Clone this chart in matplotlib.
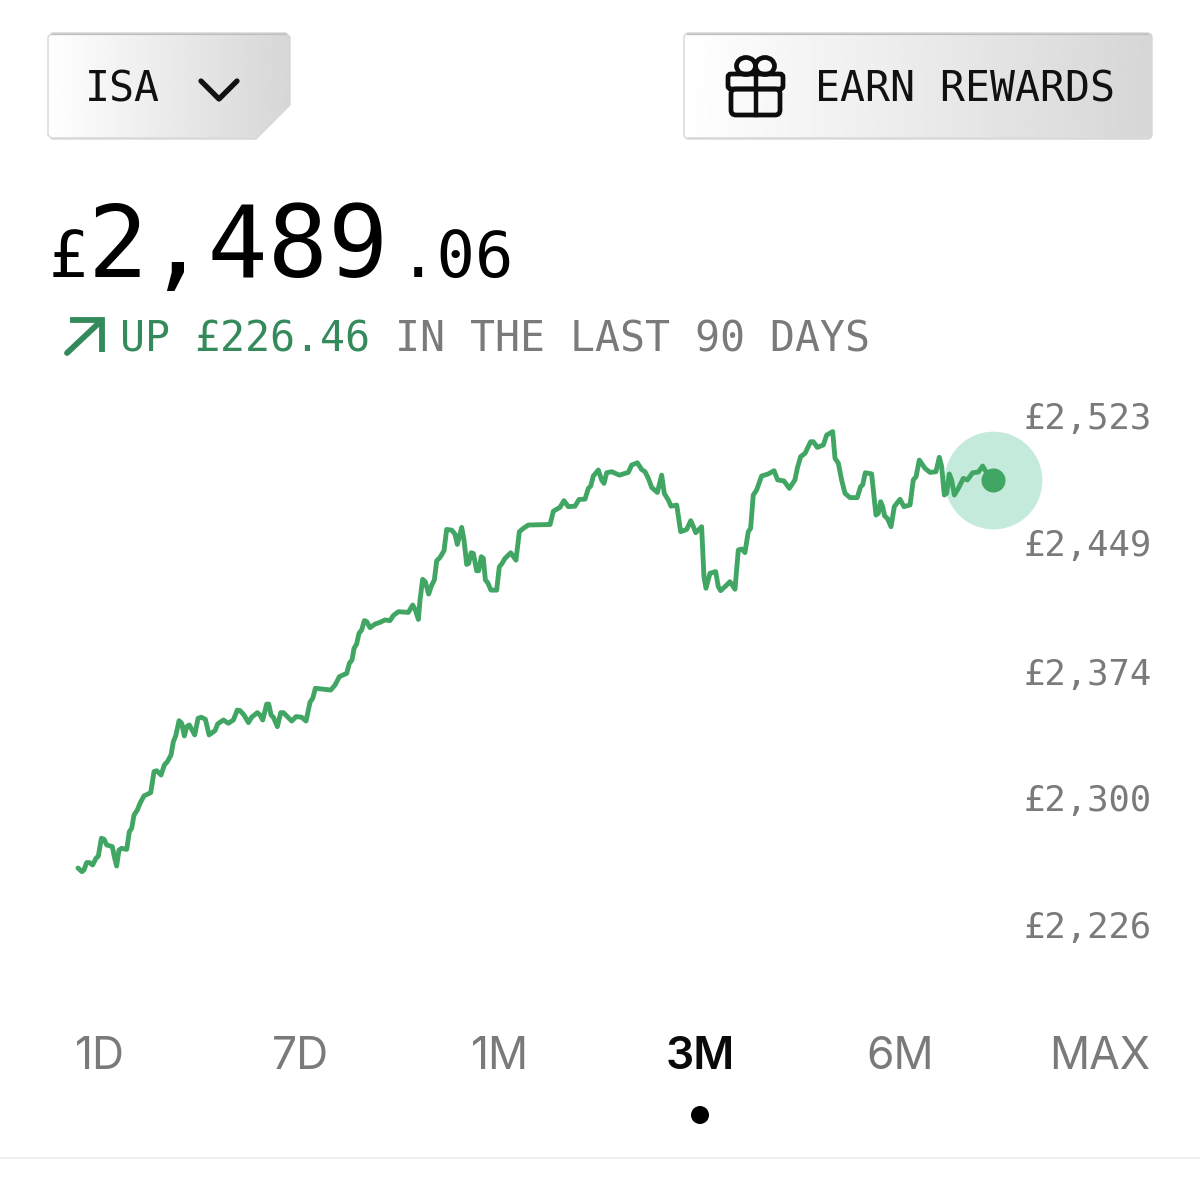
import numpy as np
import matplotlib
matplotlib.use('Agg')
import matplotlib.pyplot as plt
from matplotlib.patches import Circle, Ellipse, FancyBboxPatch, PathPatch, Polygon
from matplotlib.path import Path
from matplotlib.transforms import ScaledTranslation

# portfolio value over the last 90 days
days = [
    0.0, 0.39, 0.59, 0.85, 1.12, 1.44, 1.77, 2.0, 2.30, 2.56, 2.82, 3.38, 3.57, 3.80, 4.03, 4.30, 4.79, 5.05,
    5.28, 5.51, 5.84, 6.10, 6.49, 7.15, 7.48, 7.74, 8.17, 8.49, 8.79, 9.15, 9.38, 9.61, 9.94, 10.2, 10.46,
    10.69, 10.95, 11.21, 11.48, 11.81, 12.13, 12.53, 12.89, 13.48, 13.74, 14.30, 14.79, 15.28, 15.67, 15.94,
    16.33, 16.76, 17.08, 17.64, 17.90, 18.17, 18.56, 18.76, 18.99, 19.22, 19.61, 19.94, 20.20, 20.59, 21.02,
    21.45, 22.0, 22.43, 22.82, 23.09, 23.35, 23.64, 24.86, 25.28, 25.71, 26.43, 26.69, 26.95, 27.15, 27.41,
    27.64, 27.90, 28.17, 28.40, 28.72, 29.22, 29.71, 30.20, 30.69,
    31.02, 31.51, 32.49, 32.92, 33.18, 33.48, 33.64, 33.90, 34.16, 34.49, 34.79, 35.05, 35.28, 35.61, 36.0,
    36.26, 36.75, 37.08, 37.31, 37.51, 37.74, 37.97, 38.23, 38.43, 38.66, 38.89, 39.21, 39.41, 39.67, 39.87,
    40.07, 40.30, 40.62, 41.18, 41.44, 41.67, 42.0, 42.56, 43.08, 43.41, 43.80, 44.30, 46.43, 46.76, 47.41,
    47.80, 48.23, 48.89, 49.28, 49.87, 50.20, 50.43, 50.69, 51.18, 51.51, 51.74, 52.0, 52.49, 53.25, 54.13,
    54.46, 55.02, 55.44, 55.77, 56.10, 56.43, 56.99, 57.41, 57.67, 58.07, 58.33, 58.89, 59.28, 59.87, 60.27,
    60.53, 60.76, 61.18,
    61.34, 61.57, 61.77, 62.16, 62.72, 62.98, 63.21, 63.64, 64.13, 64.62, 64.95, 65.28, 65.60, 65.93, 66.16,
    66.42, 66.75, 67.24, 67.90, 68.46, 68.82, 69.44, 69.97, 70.52, 70.75, 71.08, 71.51, 72.06, 72.33, 72.72,
    73.31, 73.64, 74.23, 74.46, 74.79, 75.11, 75.44, 75.93, 76.65, 76.98, 77.18, 77.44, 78.06, 78.49, 78.72,
    78.95, 79.15, 79.34, 79.61, 79.97, 80.29, 80.85, 81.24, 81.84, 82.16, 82.43, 82.75, 83.31, 83.80, 84.39,
    84.72, 84.95, 85.21, 85.44, 85.70, 85.93, 86.20, 86.59, 87.08, 87.48, 88.0, 88.56, 88.98, 89.31, 90.0,
]
values = [
    2262.6, 2260.5, 2261.5, 2265.8, 2265.8, 2264.4, 2268.3, 2269.6, 2280.0, 2279.4, 2276.1, 2275.1, 2269.3,
    2263.8, 2273.1, 2274.1, 2273.5, 2283.8, 2285.8, 2293.6, 2296.5, 2300.4, 2304.7, 2306.6, 2318.9, 2319.4,
    2316.9, 2322.7, 2324.7, 2328.6, 2336.4, 2339.7, 2348.6, 2347.1, 2339.7, 2345.1, 2346.1, 2343.2, 2340.3,
    2350.0, 2350.6, 2349.4, 2340.3, 2342.8, 2346.7, 2349.0, 2347.1, 2349.0, 2354.8, 2354.5, 2351.9, 2347.5,
    2350.6, 2353.3, 2351.9, 2349.0, 2358.3, 2358.3, 2351.9, 2350.6, 2345.1, 2353.3, 2353.3, 2351.0, 2348.4,
    2351.0, 2350.6, 2348.4, 2359.3, 2361.7, 2367.5, 2367.3, 2366.5, 2369.4, 2374.3, 2376.2, 2382.1, 2384.0,
    2390.8, 2393.4, 2399.6, 2401.5, 2407.0, 2406.4, 2402.9, 2405.0, 2406.0, 2407.4, 2407.0,
    2410.0, 2412.2, 2411.8, 2416.1, 2413.2, 2407.7, 2419.0, 2431.1, 2429.7, 2422.5, 2427.7, 2430.7, 2441.9,
    2443.9, 2447.8, 2460.2, 2459.8, 2457.5, 2451.5, 2455.9, 2461.4, 2454.0, 2439.8, 2440.4, 2446.6, 2446.2,
    2436.1, 2436.1, 2444.3, 2443.3, 2430.7, 2429.1, 2424.8, 2424.8, 2438.4, 2440.0, 2443.3, 2446.6, 2442.3,
    2458.9, 2460.8, 2462.8, 2463.1, 2470.9, 2473.1, 2477.0, 2473.5, 2473.8, 2477.7, 2477.9, 2484.2, 2485.5,
    2491.4, 2494.9, 2489.0, 2487.1, 2493.3, 2493.9, 2491.9, 2493.5, 2497.8, 2499.1, 2495.2, 2493.9, 2490.0,
    2484.7, 2481.8, 2491.9, 2481.2, 2477.3, 2473.8, 2474.4, 2458.9, 2460.2, 2465.3, 2461.8, 2458.3, 2460.8,
    2461.8, 2432.6, 2425.9, 2434.6, 2435.6, 2426.8, 2424.5, 2426.8, 2429.7, 2425.3, 2448.2, 2448.8, 2446.7,
    2458.9, 2460.9, 2480.3, 2483.2, 2491.4, 2492.6, 2494.5, 2489.1, 2488.5, 2484.2, 2489.1, 2495.9, 2502.7,
    2504.6, 2511.4, 2511.4, 2508.1, 2509.5, 2515.3, 2517.3, 2501.7, 2498.8, 2489.1, 2481.3, 2478.8, 2478.8,
    2485.2, 2486.2, 2493.3, 2492.6, 2468.6, 2469.6, 2476.4, 2473.5, 2468.1, 2466.7, 2461.8, 2473.5, 2477.8,
    2473.5, 2474.5, 2489.1, 2491.0, 2500.7, 2495.9, 2493.5, 2493.9, 2502.3, 2496.9, 2480.3, 2481.3, 2492.6,
    2489.1, 2480.3, 2484.2, 2490.0, 2489.1, 2493.3, 2493.7, 2497.2, 2493.9, 2489.06,
]
y_ticks = [2523, 2449, 2374, 2300, 2226]
periods = ['1D', '7D', '1M', '3M', '6M', 'MAX']
selected_period = '3M'

MONO = 'DejaVu Sans Mono'
GREEN = '#41A663'
TEXT_GREEN = '#358A5B'
GREY = '#7A7A7A'

fig = plt.figure(figsize=(12, 12), dpi=100, facecolor='white')

# layer for the app chrome, in screen pixels with y pointing down
ui = fig.add_axes([0, 0, 1, 1])
ui.set_xlim(0, 1200)
ui.set_ylim(1200, 0)
ui.axis('off')


def gradient_button(patch, x0, x1, y0, y1):
    ui.add_patch(patch)
    grad = np.linspace(1.0, 0.84, 256).reshape(1, -1)
    im = ui.imshow(grad, cmap='gray', vmin=0, vmax=1, extent=(x0, x1, y1, y0), aspect='auto', zorder=1)
    im.set_clip_path(patch)
    ui.set_xlim(0, 1200)
    ui.set_ylim(1200, 0)
    # darker bevel along the top, pale along the bottom
    ui.plot([x0 + 4, x1 - 4], [y0 + 1, y0 + 1], color='#BDBDBD', lw=1.6, zorder=2)
    ui.plot([x0 + 4, x1 - 40 if patch.get_label() == 'cut' else x1 - 4], [y1 - 1, y1 - 1], color='#DDDDDD', lw=1.4, zorder=2)


# account selector with its clipped corner
isa_pts = [(48, 37), (52, 33), (286, 33), (290, 37), (290, 105), (256, 139), (52, 139), (48, 135), (48, 37)]
isa_shape = PathPatch(Path(isa_pts, closed=True), fc='none', ec='#D6D6D6', lw=1.0, zorder=3, label='cut')
gradient_button(isa_shape, 48, 290, 33, 139)
ui.text(122, 102, 'ISA', family=MONO, fontsize=29.9, color='#111111', ha='center', va='baseline', zorder=4)
ui.plot([201, 219, 237], [81, 99, 81], color='#111111', lw=3.8, solid_capstyle='round', solid_joinstyle='round', zorder=4)

# rewards button
rew_shape = FancyBboxPatch((687, 36), 462, 100, boxstyle='round,pad=3,rounding_size=5',
                           fc='none', ec='#D6D6D6', lw=1.0, zorder=3)
gradient_button(rew_shape, 684, 1152, 33, 139)
ui.text(965, 102, 'EARN REWARDS', family=MONO, fontsize=29.9, color='#111111', ha='center', va='baseline', zorder=4)

# gift icon
icon = dict(fc='none', ec='#0D0D0D', lw=3.4, zorder=4)
ui.add_patch(FancyBboxPatch((731, 89), 49, 26, boxstyle='round,pad=0,rounding_size=5', **icon))
ui.add_patch(FancyBboxPatch((728, 74), 55, 15, boxstyle='round,pad=0,rounding_size=3', **icon))
ui.add_patch(Ellipse((746, 66), 19, 17, **icon))
ui.add_patch(Ellipse((765, 66), 19, 17, **icon))
ui.plot([755.5, 755.5], [72, 115], color='#0D0D0D', lw=3.2, zorder=4)

# headline balance
ui.text(49, 277, '£', family=MONO, fontsize=46, color='black', va='baseline')
ui.text(88, 277, '2,489', family=MONO, fontsize=72, color='black', va='baseline')
ui.text(399, 277, '.06', family=MONO, fontsize=46, color='black', va='baseline')

# change over the period
ui.plot([67, 101], [353, 321], color=TEXT_GREEN, lw=4.2, solid_capstyle='round')
ui.add_patch(Polygon([(70, 320), (102, 320), (102, 352)], closed=False, fc='none', ec=TEXT_GREEN, lw=4.2, joinstyle='miter'))
ui.text(120, 351, 'UP £226.46', family=MONO, fontsize=29.9, color=TEXT_GREEN, va='baseline')
ui.text(395, 351, 'IN THE LAST 90 DAYS', family=MONO, fontsize=29.9, color=GREY, va='baseline')

# price line, 0 to 90 days spans x 78 to 993 and the value scale is shared with the labels
ax = fig.add_axes([78 / 1200, 200 / 1200, 1074 / 1200, 600 / 1200])
ax.patch.set_alpha(0)
ax.set_xlim(0, 105.64)
ax.set_ylim(2185.6, 2535.75)
for spine in ax.spines.values():
    spine.set_visible(False)
ax.plot(days, values, color=GREEN, lw=3.5, solid_joinstyle='round', solid_capstyle='round', clip_on=False, zorder=3)
ax.scatter([days[-1]], [values[-1]], s=4950, color='#C4EADC', linewidths=0, clip_on=False, zorder=2)
ax.scatter([days[-1]], [values[-1]], s=300, color=GREEN, linewidths=0, clip_on=False, zorder=4)
ax.set_xticks([])
ax.yaxis.tick_right()
ax.set_yticks(y_ticks)
ax.set_yticklabels([f'£{v:,}' for v in y_ticks], family=MONO, fontsize=25.6, color=GREY, ha='right')
ax.tick_params(axis='y', length=0, pad=0)
lift = ScaledTranslation(0, 6 / 100, fig.dpi_scale_trans)
for lab in ax.get_yticklabels():
    lab.set_transform(lab.get_transform() + lift)

# range selector
tab_x = np.linspace(100, 1100, len(periods))
for name, x in zip(periods, tab_x):
    on = name == selected_period
    ui.text(x, 1069, name, family='Inter', fontsize=32, ha='center', va='baseline',
            color='#0A0A0A' if on else GREY, fontweight='semibold' if on else 'normal')
    if on:
        ui.add_patch(Circle((x, 1115), 9, fc='black', ec='none'))
ui.plot([0, 1200], [1158, 1158], color='#EDEDED', lw=1.2)

fig.savefig('out.png', dpi=100)
plt.close(fig)
